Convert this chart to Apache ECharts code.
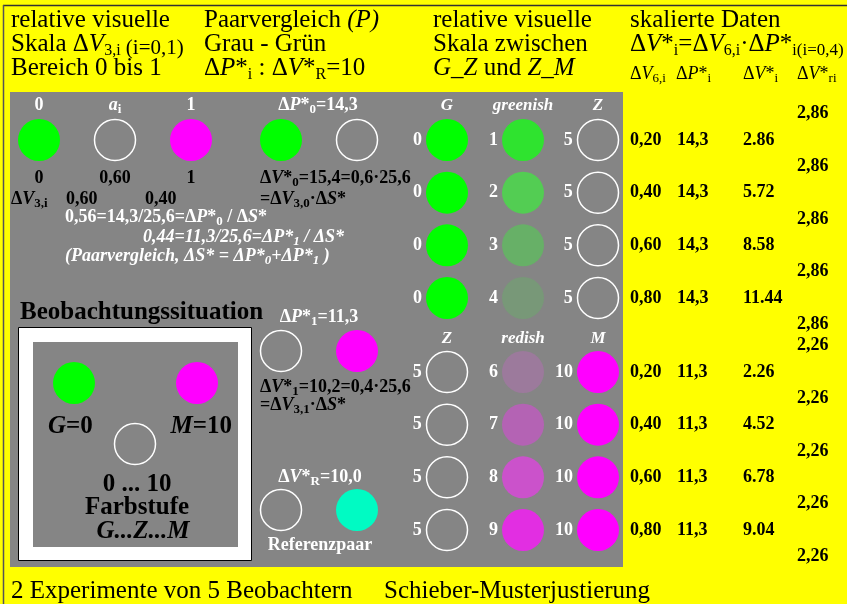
<!DOCTYPE html>
<html><head><meta charset="utf-8">
<script src="https://cdn.jsdelivr.net/npm/echarts@6/dist/echarts.min.js"></script>
<style>html,body{margin:0;padding:0;background:#ffff00}#c{width:847px;height:604px}</style>
</head><body><div id="c"></div>
<script>
// ---------------- DATA ----------------
const greenishSteps = [1, 2, 3, 4];
const redishSteps = [6, 7, 8, 9];
const stepColors = ['#00ff00', '#2fe32f', '#53cd53', '#67b067', '#789878', null,
                    '#9c7a9c', '#b463b4', '#cb52cb', '#e22ee2', '#ff00ff'];
const refColor = '#00fbc3';
const dV6 = ['0,20', '0,40', '0,60', '0,80'];
const dPgreen = ['14,3', '14,3', '14,3', '14,3'];
const dPred = ['11,3', '11,3', '11,3', '11,3'];
const dVstarGreen = ['2.86', '5.72', '8.58', '11.44'];
const dVstarRed = ['2.26', '4.52', '6.78', '9.04'];
const dVriGreen = ['2,86', '2,86', '2,86', '2,86', '2,86'];
const dVriRed = ['2,26', '2,26', '2,26', '2,26', '2,26'];

// ---------------- LAYOUT (positions only) ----------------
const FF = '"Liberation Serif","Times New Roman",serif';
const GRAY = '#858585';
const matrixCols = [447, 523, 598];
const tableCols = [630, 677, 743, 797];
const decor = [ // [x, y, step or 'ref']
  [39, 140, 0], [115, 140, 5], [191, 140, 10], [281, 140, 0], [357, 140, 5],
  [281, 351, 5], [357, 351, 10], [281, 510, 5], [357, 510, 'ref'],
  [74, 383, 0], [197, 383, 10], [135, 444, 5]
];

function circleStyle(step) {
  if (step === 'ref') return {color: refColor, opacity: 1};
  const c = stepColors[step];
  if (!c) return {color: GRAY, borderColor: '#ffffff', borderWidth: 1.5, opacity: 1};
  return {color: c, opacity: 1};
}

function matrixData(steps, left, right) {
  const out = [];
  steps.forEach(s => {
    [[left, matrixCols[0]], [s, matrixCols[1]], [right, matrixCols[2]]].forEach(([st, x]) => {
      out.push({value: [x, s], lab: String(st), itemStyle: circleStyle(st),
        symbolSize: stepColors[st] ? 42 : 41});
    });
  });
  return out;
}
function tableData(steps, dp, dvs, dvri) {
  const out = [];
  steps.forEach((s, i) => {
    out.push([tableCols[0], s, dV6[i]]);
    out.push([tableCols[1], s, dp[i]]);
    out.push([tableCols[2], s, dvs[i]]);
  });
  dvri.forEach((v, k) => out.push([tableCols[3], steps[0] - 0.5 + k, v]));
  return out;
}
const tabA = tableData(greenishSteps, dPgreen, dVstarGreen, dVriGreen);
const tabB = tableData(redishSteps, dPred, dVstarRed, dVriRed);

// ---------------- rich text helper ----------------
function T(x, y, segs, F, o) {
  o = o || {};
  const col = o.color || '#000';
  const w = o.bold ? 'bold' : 'normal';
  const L = Math.round(F * 1.2);
  const subR = o.subR || (o.bold ? 0.7 : 0.62);
  const rich = {};
  let text = '';
  segs.forEach((s, k) => {
    if (typeof s === 'string') s = {t: s};
    const size = s.sub ? Math.round(F * subR) : (s.size || F);
    const dy = s.sub ? F * 0.3 : (s.dy || 0);
    const st = {fontFamily: FF, fontSize: size, fontWeight: w,
      fontStyle: (s.it || o.italic) ? 'italic' : 'normal', fill: col};
    if (dy > 0) { st.lineHeight = L - 2 * dy; st.verticalAlign = 'bottom'; }
    else if (dy < 0) { st.lineHeight = L + 2 * dy; st.verticalAlign = 'top'; }
    else st.lineHeight = L;
    rich['r' + k] = st;
    text += '{r' + k + '|' + s.t + '}';
  });
  return {type: 'text', x: x, y: y, z: 50, silent: true,
    style: {text: text, rich: rich, align: o.align || 'left', verticalAlign: 'middle',
      fontFamily: FF, fontSize: F, fill: col}};
}
const it = t => ({t: t, it: true});
const sb = t => ({t: t, sub: true});

const H = 25, B = 18, BIG = 25;
const W = {bold: true, color: '#fff'};
const K = {bold: true, color: '#000'};
const C = o => Object.assign({align: 'center'}, o);
const texts = [
  // header
  T(11, 20, ['relative visuelle'], H),
  T(11, 44, ['Skala Δ', it('V'), sb('3,i'), {t: ' (i=0,1)', size: 21, dy: 1}], H),
  T(11, 68, ['Bereich 0 bis 1'], H),
  T(204, 20, ['Paarvergleich ', it('(P)')], H),
  T(204, 44, ['Grau - Grün'], H),
  T(204, 68, ['Δ', it('P'), '*', sb('i'), ' : Δ', it('V'), '*', sb('R'), '=10'], H),
  T(433, 20, ['relative visuelle'], H),
  T(433, 44, ['Skala zwischen'], H),
  T(433, 68, [it('G_Z'), ' und ', it('Z_M')], H),
  T(630, 20, ['skalierte Daten'], H),
  T(630, 44, ['Δ', it('V'), '*', sb('i'), '=Δ', it('V'), sb('6,i'), '·Δ', it('P'), '*', sb('i'), {t: '(i=0,4)', size: 17, dy: 3}], H),
  T(630, 74, ['Δ', it('V'), sb('6,i')], 18, {subR: 0.7}),
  T(676, 74, ['Δ', it('P'), '*', sb('i')], 18, {subR: 0.7}),
  T(743, 74, ['Δ', it('V'), '*', sb('i')], 18, {subR: 0.7}),
  T(797, 74, ['Δ', it('V'), '*', sb('ri')], 18, {subR: 0.7}),
  // top-left panel
  T(39, 105, ['0'], B, C(W)),
  T(115, 105, [it('a'), sb('i')], B, C(W)),
  T(191, 105, ['1'], B, C(W)),
  T(318, 105, ['Δ', it('P'), '*', sb('0'), '=14,3'], B, C(W)),
  T(39, 178, ['0'], B, C(K)),
  T(115, 178, ['0,60'], B, C(K)),
  T(191, 178, ['1'], B, C(K)),
  T(260, 178, ['Δ', it('V'), '*', sb('0'), '=15,4=0,6·25,6'], B, K),
  T(11, 199, ['Δ', it('V'), sb('3,i')], B, K),
  T(66, 199, ['0,60'], B, K),
  T(145, 199, ['0,40'], B, K),
  T(260, 199, ['=Δ', it('V'), sb('3,0'), '·Δ', it('S'), '*'], B, K),
  T(65, 217, ['0,56=14,3/25,6=Δ', it('P'), '*', sb('0'), ' / Δ', it('S'), '*'], B, W),
  T(143, 237, ['0,44=11,3/25,6=Δ', 'P', '*', sb('1'), ' / Δ', 'S', '*'], B, Object.assign({italic: true}, W)),
  T(65, 256, ['(Paarvergleich, Δ', 'S', '* = Δ', 'P', '*', sb('0'), '+Δ', 'P', '*', sb('1'), ' )'], B, Object.assign({italic: true}, W)),
  // matrix headers
  T(447, 106, ['G'], 17, C(Object.assign({italic: true}, W))),
  T(523, 106, ['greenish'], 17, C(Object.assign({italic: true}, W))),
  T(598, 106, ['Z'], 17, C(Object.assign({italic: true}, W))),
  T(447, 339, ['Z'], 17, C(Object.assign({italic: true}, W))),
  T(523, 339, ['redish'], 17, C(Object.assign({italic: true}, W))),
  T(598, 339, ['M'], 17, C(Object.assign({italic: true}, W))),
  // lower-left
  T(20, 313, ['Beobachtungssituation'], BIG, K),
  T(319, 317, ['Δ', it('P'), '*', sb('1'), '=11,3'], B, C(W)),
  T(260, 387, ['Δ', it('V'), '*', sb('1'), '=10,2=0,4·25,6'], B, K),
  T(260, 405, ['=Δ', it('V'), sb('3,1'), '·Δ', it('S'), '*'], B, K),
  T(320, 477, ['Δ', it('V'), '*', sb('R'), '=10,0'], B, C(W)),
  T(320, 545, ['Referenzpaar'], B, C(W)),
  T(48, 427, [it('G'), '=0'], BIG, K),
  T(232, 427, [it('M'), '=10'], BIG, Object.assign({align: 'right'}, K)),
  T(137, 485, ['0 ... 10'], BIG, C(K)),
  T(137, 508, ['Farbstufe'], BIG, C(K)),
  T(143, 532, ['G...Z...M'], BIG, C(Object.assign({italic: true}, K))),
  // footer
  T(11, 591, ['2 Experimente von 5 Beobachtern'], H),
  T(384, 591, ['Schieber-Musterjustierung'], H)
];

const shapes = [
  {type: 'rect', z: 1, silent: true, shape: {x: 10, y: 92, width: 613, height: 475}, style: {fill: GRAY}},
  {type: 'rect', z: 2, silent: true, shape: {x: 18.5, y: 327.5, width: 233, height: 233}, style: {fill: '#fff', stroke: '#000', lineWidth: 1}},
  {type: 'rect', z: 3, silent: true, shape: {x: 33, y: 342, width: 205, height: 205}, style: {fill: GRAY}},
  {type: 'line', z: 3, silent: true, shape: {x1: 3, y1: 5.5, x2: 847, y2: 5.5}, style: {stroke: '#333', lineWidth: 1.5}},
  {type: 'line', z: 3, silent: true, shape: {x1: 3.5, y1: 5, x2: 3.5, y2: 604}, style: {stroke: '#555', lineWidth: 1.5}}
];

const chart = echarts.init(document.getElementById('c'), null, {renderer: 'canvas'});
const axisBase = {type: 'value', show: false, splitLine: {show: false}};
const labelStyle = {show: true, position: 'left', distance: 4, color: '#fff', fontFamily: FF,
  fontWeight: 'bold', fontSize: 18, formatter: p => p.data.lab};
function textSeries(tab, idx) {
  return {
    type: 'custom', xAxisIndex: idx, yAxisIndex: idx, z: 20, clip: false, silent: true,
    data: tab.map(r => [r[0], r[1]]),
    renderItem: (params, api) => {
      const p = api.coord([api.value(0), api.value(1)]);
      return {type: 'text', x: p[0], y: p[1], style: {text: tab[params.dataIndex][2], fill: '#000',
        fontFamily: FF, fontWeight: 'bold', fontSize: 18, align: 'left', verticalAlign: 'middle'}};
    }
  };
}
chart.setOption({
  backgroundColor: '#ffff00',
  animation: false,
  grid: [
    {left: 0, top: 0, width: 847, height: 604},
    {left: 0, width: 847, top: 113.67, height: 210.67},
    {left: 0, width: 847, top: 345.67, height: 210.67}
  ],
  xAxis: [0, 1, 2].map(i => Object.assign({gridIndex: i, min: 0, max: 847}, axisBase)),
  yAxis: [
    Object.assign({gridIndex: 0, min: 0, max: 604, inverse: true}, axisBase),
    Object.assign({gridIndex: 1, min: 0.5, max: 4.5, inverse: true}, axisBase),
    Object.assign({gridIndex: 2, min: 5.5, max: 9.5, inverse: true}, axisBase)
  ],
  graphic: shapes.concat(texts),
  series: [
    {type: 'scatter', xAxisIndex: 0, yAxisIndex: 0, z: 10, silent: true, clip: false,
      data: decor.map(d => ({value: [d[0], d[1]], itemStyle: circleStyle(d[2]),
        symbolSize: (d[2] === 5) ? 41 : 42}))},
    {type: 'scatter', xAxisIndex: 1, yAxisIndex: 1, z: 10, silent: true, clip: false,
      data: matrixData(greenishSteps, 0, 5), label: labelStyle},
    {type: 'scatter', xAxisIndex: 2, yAxisIndex: 2, z: 10, silent: true, clip: false,
      data: matrixData(redishSteps, 5, 10), label: labelStyle},
    textSeries(tabA, 1),
    textSeries(tabB, 2)
  ]
});
</script></body></html>
